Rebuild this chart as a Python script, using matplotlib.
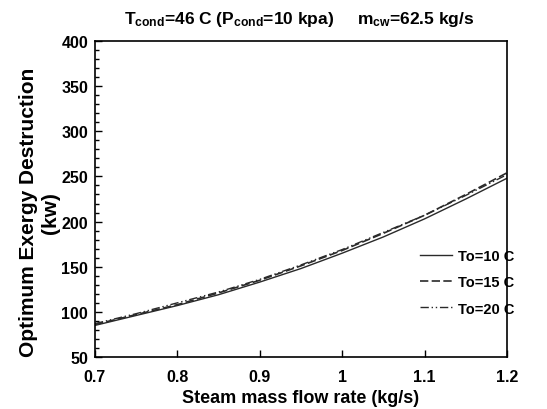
import matplotlib
matplotlib.use("Agg")
import matplotlib.pyplot as plt
from matplotlib.ticker import MultipleLocator

plt.rcParams['font.family'] = ['Liberation Sans', 'DejaVu Sans']
plt.rcParams['font.weight'] = 'bold'
plt.rcParams['mathtext.fontset'] = 'custom'
plt.rcParams['mathtext.rm'] = 'Liberation Sans:bold'
plt.rcParams['mathtext.it'] = 'Liberation Sans:bold'
plt.rcParams['mathtext.bf'] = 'Liberation Sans:bold'

flow = [0.7, 0.75, 0.8, 0.85, 0.9, 0.95, 1.0, 1.05, 1.1, 1.15, 1.2]
to10 = [85, 96, 107, 119, 133, 148, 165, 183, 203, 225, 248]
to15 = [86, 97, 108, 121, 135, 151, 168, 187, 207, 230, 254]
to20 = [87, 98, 110, 122, 136, 152, 169, 188, 207, 229, 252]
labels = ["To=10 C", "To=15 C", "To=20 C"]
xticks = [0.7, 0.8, 0.9, 1.0, 1.1, 1.2]
xticklabels = ["0.7", "0.8", "0.9", "1", "1.1", "1.2"]

fig = plt.figure(figsize=(5.47, 4.10), dpi=100)
ax = fig.add_axes([95/547, 1 - 358/410, 412/547, 316/410])

ax.plot(flow, to10, color='#2a2a2a', lw=1.0, ls='-', label=labels[0])
ax.plot(flow, to15, color='#2a2a2a', lw=1.2, ls=(0, (5, 2)), label=labels[1])
ax.plot(flow, to20, color='#2a2a2a', lw=1.0, ls=(0, (6, 2, 1, 2, 1, 2)), label=labels[2])

ax.set_xlim(0.7, 1.2)
ax.set_ylim(50, 400)
ax.set_xticks(xticks)
ax.set_xticklabels(xticklabels)
ax.yaxis.set_major_locator(MultipleLocator(50))
ax.yaxis.set_minor_locator(MultipleLocator(10))
ax.tick_params(axis='both', direction='in', labelsize=11.5, width=1, length=5)
ax.tick_params(axis='x', pad=9)
ax.tick_params(axis='y', pad=5)
ax.tick_params(axis='y', which='minor', direction='in', length=3, width=1)
for s in ax.spines.values():
    s.set_linewidth(1.2)

ax.set_xlabel("Steam mass flow rate (kg/s)", fontsize=13, fontweight='bold', labelpad=3)
ax.set_ylabel("Optimum Exergy Destruction\n(kw)", fontsize=15, fontweight='bold',
              linespacing=1.2)
ax.yaxis.set_label_coords(-0.085, 0.46)

fig.text(0.547, 0.952,
         r"T$_{\mathrm{cond}}$=46 C (P$_{\mathrm{cond}}$=10 kpa)     m$_{\mathrm{cw}}$=62.5 kg/s",
         ha='center', va='center', fontsize=12.5, fontweight='bold')

leg = ax.legend(loc='center', bbox_to_anchor=(0.903, 0.237), frameon=False, fontsize=10.5,
                handlelength=2.2, labelspacing=0.85, handletextpad=0.4)

fig.savefig("out.png", dpi=100)
